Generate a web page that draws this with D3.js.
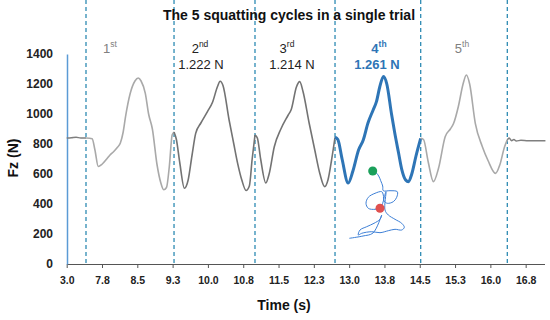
<!DOCTYPE html>
<meta charset="utf-8">
<style>
  body { margin: 0; background: #fff; }
  svg { font-family: "Liberation Sans", Arial, sans-serif; }
  .tick text { font-weight: bold; fill: #222; }
</style>
<svg width="550" height="320"></svg>
<script src="https://cdn.jsdelivr.net/npm/d3@7"></script>
<script>
// force signal (time in s, vertical force in N)
var time = [7.00, 7.10, 7.20, 7.30, 7.41, 7.54, 7.60, 7.67, 7.75, 7.85, 7.92, 8.00, 8.07, 8.14, 8.20, 8.25, 8.35, 8.45, 8.52, 8.58, 8.67, 8.74, 8.82, 8.92, 9.00, 9.06, 9.12, 9.18, 9.24, 9.28,
  9.33, 9.40, 9.50, 9.58, 9.66, 9.74, 9.85, 9.99, 10.10, 10.20, 10.26, 10.32, 10.45, 10.55, 10.63, 10.72, 10.81, 10.88, 10.94, 11.00,
  11.05, 11.12, 11.23, 11.30, 11.41, 11.55, 11.70, 11.77, 11.88, 11.95, 12.02, 12.15, 12.27, 12.38, 12.48, 12.55, 12.63, 12.70,
  12.76, 12.85, 12.98, 13.08, 13.20, 13.30, 13.40, 13.51, 13.58, 13.65, 13.73, 13.80, 13.90, 13.97, 14.05, 14.12, 14.20, 14.26, 14.33, 14.42, 14.52,
  14.58, 14.68, 14.79, 14.90, 15.04, 15.15, 15.22, 15.32, 15.42, 15.49, 15.56, 15.68, 15.83, 15.95, 16.11, 16.20, 16.30, 16.36,
  16.40, 16.45, 16.50, 16.55, 16.65, 16.80, 17.17];
var force = [840, 842, 845, 840, 840, 835, 760, 650, 665, 700, 727, 750, 775, 807, 880, 982, 1138, 1220, 1240, 1220, 1138, 1000, 900, 660, 540, 495, 510, 650, 860, 880,
  830, 680, 505, 560, 720, 871, 940, 1016, 1080, 1180, 1218, 1190, 960, 800, 673, 560, 490, 520, 700, 860,
  840, 700, 540, 600, 782, 900, 990, 1030, 1180, 1216, 1150, 940, 760, 600, 516, 560, 700, 845,
  830, 700, 540, 620, 760, 827, 940, 1027, 1082, 1180, 1250, 1200, 1000, 871, 740, 627, 560, 549, 600, 720, 838,
  830, 680, 549, 640, 849, 900, 938, 1050, 1200, 1260, 1200, 938, 782, 690, 604, 660, 780, 827,
  840, 822, 830, 820, 825, 822, 822];

// cycle borders (s) and labels
var borders = [7.41, 9.28, 11.00, 12.70, 14.52, 16.36];
var cycleNum = ["1", "2", "3", "4", "5"];
var cycleSup = ["st", "nd", "rd", "th", "th"];
var cyclePeak = ["", "1.222 N", "1.214 N", "1.261 N", ""];

var xTicks = [7.0, 7.75, 8.5, 9.25, 10.0, 10.75, 11.5, 12.25, 13.0, 13.75, 14.5, 15.25, 16.0, 16.75];
var xTickLabels = ["3.0", "7.8", "8.5", "9.3", "10.0", "10.8", "11.5", "12.3", "13.0", "13.8", "14.5", "15.3", "16.0", "16.8"];
var yTicks = [0, 200, 400, 600, 800, 1000, 1200, 1400];

// centre of pressure path for the 4th cycle (cm)
var copX = [2.77, 3.10, 3.37, 3.57, 3.77, 3.83, 4.50, 5.23, 5.17, 4.83, 4.23, 3.90, 3.83, 3.67, 3.00, 2.33, 2.10, 2.33, 3.00, 3.57, 3.77, 3.90, 4.10,
  4.00, 4.33, 5.00, 5.67, 5.93, 5.67, 5.00, 4.33, 3.50, 2.67, 1.67, 1.33, 1.50, 2.17, 2.90, 3.50, 3.67, 2.80, 1.80, 0.43];
var copY = [7.40, 7.23, 6.90, 6.43, 5.90, 5.43, 5.43, 5.33, 4.77, 4.33, 4.17, 4.40, 5.00, 5.33, 5.17, 4.77, 4.17, 3.67, 3.57, 3.77, 4.17, 4.67, 5.33,
  3.50, 3.00, 2.57, 2.17, 1.77, 1.50, 1.57, 1.43, 1.23, 1.33, 1.17, 1.00, 1.50, 1.83, 2.17, 2.57, 3.00, 1.20, 0.90, 0.67];
var copStart = [2.77, 7.40], copEnd = [3.50, 3.67];

var svg = d3.select("svg"),
    left = 67, right = 544, top = 37, bottom = 264;

var x = d3.scaleLinear().domain([7.0, 17.15]).range([66.7, 544.5]);
var y = d3.scaleLinear().domain([0, 1400]).range([bottom, 54]);

var data = time.map(function(t, i) { return {t: t, f: force[i]}; });

// shaded 1st and 5th cycles
[0, 4].forEach(function(c) {
  svg.append("rect")
    .attr("x", x(borders[c])).attr("y", top)
    .attr("width", x(borders[c + 1]) - x(borders[c]))
    .attr("height", bottom - top)
    .attr("fill", "#f2f2f2");
});

// x axis
var xAxis = svg.append("g")
  .attr("transform", "translate(0," + bottom + ")")
  .call(d3.axisBottom(x).tickValues(xTicks).tickSize(4).tickSizeOuter(0)
    .tickFormat(function(d, i) { return xTickLabels[i]; }));
xAxis.select(".domain").attr("stroke", "#555");
xAxis.selectAll(".tick line").attr("stroke", "#555");
xAxis.selectAll(".tick text").attr("font-size", 10.5).attr("dy", "1.2em");

// y axis (blue line, no ticks)
var yAxis = svg.append("g")
  .attr("transform", "translate(" + left + ",0)")
  .call(d3.axisLeft(y).tickValues(yTicks).tickSize(0).tickPadding(14).tickFormat(d3.format("d")));
yAxis.select(".domain").attr("stroke", "#5b9bd5").attr("stroke-width", 1.5);
yAxis.selectAll(".tick text").attr("font-size", 12);

// dashed cycle borders
svg.selectAll(".border").data(borders).enter().append("line")
  .attr("x1", function(d) { return x(d); }).attr("x2", function(d) { return x(d); })
  .attr("y1", top).attr("y2", bottom)
  .attr("stroke", "#2e8bb3").attr("stroke-width", 1.3)
  .attr("stroke-dasharray", "4,3");

// force curve, one piece per section
var line = d3.line().x(function(d) { return x(d.t); }).y(function(d) { return y(d.f); })
  .curve(d3.curveMonotoneX);
var cuts = [7.0].concat(borders).concat([17.17]);
var styles = [
  {c: "#7f7f7f", w: 1.5}, {c: "#a9a9a9", w: 1.6}, {c: "#737373", w: 1.6}, {c: "#737373", w: 1.6},
  {c: "#2e75b6", w: 3}, {c: "#a9a9a9", w: 1.6}, {c: "#7f7f7f", w: 1.5}
];
styles.forEach(function(s, i) {
  var seg = data.filter(function(d) { return d.t >= cuts[i] && d.t <= cuts[i + 1]; });
  svg.append("path").datum(seg)
    .attr("d", line).attr("fill", "none")
    .attr("stroke", s.c).attr("stroke-width", s.w)
    .attr("stroke-linejoin", "round");
});

// cycle labels
var labColor = ["#808080", "#222", "#222", "#2e75b6", "#808080"];
var labX = [110, 200, 287, 379, 462];
var valX = [0, 201, 292, 377, 0];
cycleNum.forEach(function(n, i) {
  var bold = i === 3 ? "bold" : "normal";
  var t = svg.append("text")
    .attr("x", labX[i]).attr("y", 53)
    .attr("text-anchor", "middle")
    .attr("font-size", 13).attr("font-weight", bold)
    .attr("fill", labColor[i]);
  t.append("tspan").text(n);
  t.append("tspan").attr("font-size", 8.5).attr("dy", -6).text(cycleSup[i]);
  if (cyclePeak[i]) {
    svg.append("text")
      .attr("x", valX[i]).attr("y", 68.5)
      .attr("text-anchor", "middle")
      .attr("font-size", 13).attr("font-weight", bold)
      .attr("fill", labColor[i])
      .text(cyclePeak[i]);
  }
});

// centre of pressure inset
var cx = d3.scaleLinear().domain([0, 9]).range([345, 435]),
    cy = d3.scaleLinear().domain([0, 8]).range([245, 165]);
var cop = copX.map(function(v, i) { return [v, copY[i]]; });
svg.append("path").datum(cop)
  .attr("d", d3.line().x(function(d) { return cx(d[0]); }).y(function(d) { return cy(d[1]); }).curve(d3.curveCatmullRom))
  .attr("fill", "none").attr("stroke", "#3d7fd6").attr("stroke-width", 1);
svg.append("circle").attr("cx", cx(copStart[0])).attr("cy", cy(copStart[1])).attr("r", 4.5).attr("fill", "#1aa05a");
svg.append("circle").attr("cx", cx(copEnd[0])).attr("cy", cy(copEnd[1])).attr("r", 4.5).attr("fill", "#e0504f");

// titles
svg.append("text").attr("x", 289).attr("y", 20)
  .attr("text-anchor", "middle").attr("font-size", 14).attr("font-weight", "bold")
  .attr("fill", "#111")
  .text("The 5 squatting cycles in a single trial");
svg.append("text").attr("x", 284).attr("y", 310)
  .attr("text-anchor", "middle").attr("font-size", 14).attr("font-weight", "bold")
  .attr("fill", "#111")
  .text("Time (s)");
svg.append("text")
  .attr("transform", "translate(18,158) rotate(-90)")
  .attr("text-anchor", "middle").attr("font-size", 14).attr("font-weight", "bold")
  .attr("fill", "#111")
  .text("Fz (N)");
</script>
